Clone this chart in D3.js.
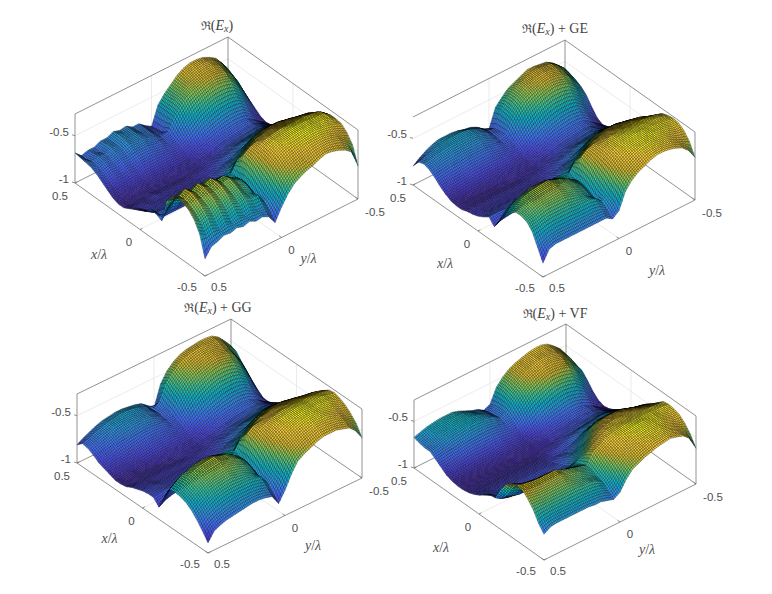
<!DOCTYPE html>
<html><head><meta charset="utf-8">
<script src="https://cdn.jsdelivr.net/npm/d3@7"></script>
<style>html,body{margin:0;background:#fff}svg{display:block}</style></head>
<body><svg id="c" width="772" height="594"></svg>
<script>
// Surface heights on a 25 x 25 grid: rows step along x, columns along y.
// Value = height above z = -1, in steps of 1/94.
const gridRe = [
[17,26,28,31,30,32,30,32,29,30,27,18,30,40,47,51,54,56,59,61,60,58,55,50,33],
[38,34,37,34,37,34,37,34,36,33,33,26,34,47,53,57,59,61,63,64,64,63,61,56,50],
[48,43,46,42,46,42,45,42,44,41,41,31,37,52,58,61,63,65,67,67,67,66,64,61,58],
[54,48,52,48,52,48,51,46,48,42,39,29,42,56,62,65,67,68,69,70,70,69,68,66,63],
[57,52,56,51,55,51,55,49,51,45,43,33,46,58,64,67,69,70,71,71,71,70,70,68,64],
[58,54,58,53,57,53,56,51,53,47,44,36,51,59,65,68,69,70,71,71,71,70,70,69,64],
[56,53,57,52,56,52,55,50,51,46,43,37,54,60,65,67,68,69,69,69,69,69,68,67,62],
[48,46,50,46,49,46,49,44,45,40,38,35,55,60,62,63,64,65,65,65,65,65,64,62,56],
[24,34,38,35,38,35,38,36,38,36,38,37,48,52,56,59,60,61,61,61,61,60,59,58,50],
[27,21,21,21,21,21,21,21,21,21,22,27,36,40,46,51,54,56,57,57,56,55,53,51,45],
[28,21,21,20,20,20,20,20,20,20,21,23,30,33,37,42,47,50,51,51,51,49,47,45,39],
[22,18,18,18,18,18,18,18,18,18,18,20,25,28,30,34,38,42,44,44,44,43,41,39,33],
[19,16,16,16,16,16,16,16,16,16,16,17,20,23,25,28,30,33,35,36,37,36,34,31,27],
[16,14,15,14,14,14,14,14,14,14,14,15,17,20,23,25,27,29,30,31,32,32,30,27,22],
[13,13,13,13,14,13,13,13,13,13,13,14,15,17,19,21,23,24,25,26,27,27,25,22,18],
[10,10,11,11,12,11,11,11,11,11,12,12,13,15,16,18,20,21,22,23,24,24,22,19,15],
[10,10,10,11,11,11,11,11,11,12,12,12,12,14,15,17,19,20,21,22,23,23,20,16,12],
[12,11,12,12,13,12,13,13,13,13,13,13,13,15,17,19,21,23,24,25,25,24,20,15,11],
[16,14,15,15,16,16,17,17,17,17,17,16,16,18,21,25,28,30,32,33,33,32,27,19,13],
[20,18,20,19,21,20,22,22,22,21,20,19,19,23,29,34,38,41,43,43,43,41,35,26,17],
[24,22,24,23,25,25,27,27,27,25,24,21,21,29,37,43,47,50,52,53,52,50,43,33,21],
[27,25,27,26,28,28,31,30,30,28,26,22,24,36,44,50,53,55,57,58,57,55,49,39,25],
[28,26,28,27,30,29,32,31,31,28,27,22,20,36,45,50,55,57,59,60,60,57,51,42,27],
[29,24,27,25,30,29,33,31,31,27,27,22,19,36,44,50,55,59,61,62,61,58,53,45,29],
[30,24,26,26,29,29,32,30,31,27,27,22,18,36,44,50,56,60,62,62,61,58,54,46,29]];
const gridGE = [
[14,25,27,27,27,27,27,27,27,27,27,23,28,44,52,57,60,63,65,65,64,62,59,53,43],
[26,30,32,33,33,33,33,33,33,33,32,28,34,49,56,60,63,66,67,67,66,65,62,58,55],
[38,39,41,42,42,42,42,41,41,41,39,33,37,52,59,63,66,68,69,69,68,67,65,63,62],
[44,45,47,49,49,49,49,47,45,42,37,30,42,56,62,66,68,69,70,70,70,69,68,66,66],
[46,48,51,52,52,53,53,50,49,45,41,33,46,58,64,67,69,70,71,71,70,70,69,68,67],
[46,49,52,53,54,55,55,52,50,47,42,36,51,59,65,67,69,70,70,70,70,69,69,68,66],
[41,47,51,53,54,55,55,52,50,47,42,37,54,60,64,66,68,68,68,68,68,68,67,66,64],
[35,42,46,48,50,50,50,48,46,43,39,36,55,60,62,63,64,65,65,65,65,64,63,61,58],
[25,33,37,39,41,41,41,41,41,41,40,39,48,52,56,59,60,61,61,61,61,60,59,56,52],
[16,19,20,21,22,22,22,22,22,23,23,27,36,40,46,51,54,56,57,57,56,55,53,50,45],
[22,22,22,21,21,21,21,21,21,21,21,23,30,33,37,42,47,50,51,51,51,49,47,44,39],
[18,19,19,19,19,19,18,18,18,18,18,20,25,28,30,34,38,42,44,44,44,43,40,37,33],
[15,16,16,16,16,16,16,16,16,16,16,17,20,23,25,28,30,33,35,36,37,36,33,30,27],
[13,14,14,14,14,14,14,14,14,14,14,15,17,20,23,25,27,29,30,31,32,31,29,26,22],
[12,13,13,13,13,13,13,13,13,13,13,14,15,17,19,21,23,24,25,26,27,26,24,21,18],
[10,11,11,11,11,11,11,11,11,11,12,12,13,15,16,18,20,21,22,23,24,24,21,18,15],
[10,10,10,10,10,10,10,11,11,12,12,12,12,14,15,17,19,20,21,22,23,22,20,16,12],
[11,11,11,12,12,12,13,13,13,13,13,13,13,15,17,19,21,23,24,25,25,24,20,15,10],
[14,15,15,16,16,17,17,17,17,17,17,16,16,18,21,25,28,30,32,33,33,32,27,19,13],
[18,19,20,20,21,22,22,22,22,21,20,19,19,23,29,34,38,41,43,43,43,41,35,27,20],
[23,24,25,26,26,27,27,27,27,25,24,21,21,29,37,43,47,50,52,53,52,50,44,35,28],
[27,28,29,30,31,31,31,31,31,29,26,22,24,36,44,50,53,55,57,58,57,55,50,41,33],
[29,30,32,33,34,34,34,34,33,31,28,23,23,37,46,51,55,57,59,60,59,57,52,44,36],
[27,29,31,33,34,35,35,35,34,31,28,23,22,38,46,51,55,57,59,60,59,58,53,47,38],
[19,24,28,31,33,33,33,32,30,29,26,21,18,36,43,49,52,55,58,58,57,56,52,46,40]];
const gridGG = [
[10,19,22,24,25,26,27,28,28,27,25,15,25,38,48,52,55,58,60,60,60,58,56,50,40],
[18,24,27,29,31,32,33,33,33,32,30,22,32,44,53,57,60,62,64,64,63,62,60,55,50],
[25,30,34,37,39,40,40,40,40,39,37,28,34,48,57,60,63,65,67,67,67,65,63,59,56],
[31,36,40,43,45,46,47,45,44,41,36,27,39,53,59,63,66,68,69,69,68,67,66,63,61],
[35,40,44,47,49,50,51,50,48,45,40,30,45,57,62,65,67,69,70,70,69,69,68,66,64],
[37,42,47,50,52,53,54,52,50,47,42,33,50,58,63,66,68,69,70,70,69,69,69,67,66],
[38,43,48,51,53,54,55,52,51,47,42,35,53,60,63,65,67,68,68,68,68,68,67,66,65],
[37,42,46,48,50,51,51,49,47,43,39,34,55,60,61,62,63,64,65,65,65,64,64,63,61],
[26,32,36,39,41,42,42,42,42,41,40,38,48,52,56,59,60,61,61,61,61,60,59,58,55],
[12,16,18,19,20,21,21,22,22,22,22,27,36,40,46,51,54,56,57,57,56,55,53,51,47],
[18,19,20,20,20,20,20,20,20,20,21,23,30,33,37,42,47,50,51,51,51,49,47,45,41],
[18,18,18,18,18,18,18,18,18,18,18,20,25,28,30,34,38,42,44,44,44,43,41,39,35],
[17,17,17,16,16,16,16,16,16,16,16,17,20,23,25,28,30,33,35,36,37,36,34,32,30],
[15,15,15,14,14,14,14,14,14,14,14,15,17,20,23,25,27,29,30,31,32,32,31,29,25],
[13,13,13,13,13,13,13,13,13,13,13,14,15,17,19,21,23,24,25,26,27,27,26,24,21],
[10,10,11,11,11,11,11,11,11,11,12,12,13,15,16,18,20,21,22,23,24,24,23,21,19],
[9,9,10,10,10,10,10,11,11,12,12,12,12,14,15,17,19,20,21,22,23,23,21,18,15],
[9,9,10,10,11,11,12,12,13,13,13,13,13,15,17,19,21,23,24,25,25,24,21,16,12],
[11,12,13,13,14,15,16,17,17,17,17,16,16,18,21,25,28,30,32,33,33,32,28,20,12],
[13,15,16,17,18,19,20,21,21,21,20,19,19,23,29,34,38,41,43,43,43,41,36,27,16],
[15,18,20,22,23,24,25,26,26,25,24,21,21,29,37,43,47,50,52,53,52,50,44,34,21],
[19,22,24,26,28,29,30,30,30,29,26,22,24,36,44,50,53,55,57,58,57,55,50,40,27],
[22,25,27,29,31,32,32,32,31,30,27,23,25,39,47,52,56,58,60,60,59,57,52,43,33],
[23,25,28,30,32,33,34,34,33,31,28,22,28,43,50,56,59,61,62,62,61,60,55,47,40],
[18,22,25,28,30,31,32,32,31,30,28,23,18,38,48,54,58,60,61,62,62,61,57,50,42]];
const gridVF = [
[26,30,31,31,31,31,31,31,30,30,28,26,30,40,47,50,53,55,57,58,59,57,55,49,36],
[33,35,36,36,36,36,36,36,36,35,34,31,35,44,50,53,56,58,60,60,60,59,56,52,46],
[43,43,43,43,43,43,43,43,42,42,40,36,40,48,53,56,58,60,61,62,62,60,58,55,53],
[50,49,48,48,48,48,48,46,44,42,40,37,44,51,55,58,60,62,63,63,63,62,60,58,58],
[55,53,52,51,51,51,51,48,47,45,42,40,48,54,57,60,62,63,64,64,63,63,61,60,60],
[56,54,53,52,52,52,52,49,47,45,43,41,52,55,59,61,62,63,63,63,63,63,62,62,61],
[54,50,48,47,46,46,45,43,42,40,39,38,48,53,57,60,61,61,61,61,61,61,61,60,60],
[49,42,38,36,35,35,35,35,35,35,35,36,41,47,53,57,59,60,60,59,59,58,57,56,55],
[40,31,28,26,26,26,26,26,26,26,27,29,35,40,46,52,55,57,57,57,56,55,53,52,50],
[28,24,22,22,22,22,22,22,22,23,24,25,30,34,38,45,50,53,54,54,53,51,49,47,46],
[27,23,22,22,21,21,21,21,21,21,22,23,26,28,32,38,44,47,48,48,47,46,44,42,41],
[23,21,20,20,20,20,20,20,20,20,20,20,23,24,27,31,36,39,41,41,41,40,38,36,35],
[19,19,18,18,18,18,18,18,18,18,18,18,19,21,23,25,29,31,33,34,34,34,33,31,30],
[16,16,16,16,16,16,16,16,16,16,16,16,17,20,22,24,26,28,29,30,31,31,29,27,26],
[14,14,14,14,14,14,14,14,14,14,14,14,15,17,19,21,22,23,24,25,26,26,25,23,21],
[13,13,13,13,13,13,13,13,13,13,13,13,14,15,16,18,20,21,22,22,23,23,22,19,17],
[13,13,13,13,13,13,13,13,13,14,14,14,14,15,16,18,19,20,21,22,22,22,20,17,14],
[14,14,14,14,14,14,15,15,15,15,15,15,15,16,18,20,22,23,24,25,25,23,20,15,13],
[16,16,17,17,18,18,18,18,19,19,18,18,17,19,22,26,29,31,33,34,33,31,27,20,15],
[20,20,21,22,23,24,24,24,24,24,23,22,22,26,32,36,39,42,44,44,43,41,35,27,20],
[24,25,26,27,28,29,30,30,30,29,27,25,26,33,39,45,48,51,53,53,52,50,44,35,27],
[28,29,30,32,33,34,35,35,34,33,31,27,29,38,44,49,53,55,57,57,56,54,49,41,33],
[28,30,32,34,35,36,36,36,35,33,30,26,29,40,46,51,55,57,59,59,58,56,51,45,34],
[29,31,34,35,36,37,37,36,34,31,29,25,28,41,47,52,55,57,59,59,59,57,52,46,31],
[31,33,35,36,37,37,37,35,32,29,27,23,26,40,47,52,55,57,59,60,60,58,53,47,27]];

const xTicks = [-0.5, 0, 0.5];
const yTicks = [-0.5, 0, 0.5];
const zTicks = [-1, -0.5];
const tickText = {"-1":"-1","-0.5":"-0.5","0":"0","0.5":"0.5"};
const zUnit = 1/94, zLim = [-1, -0.27];
const parula = ["#3e26a8","#4747eb","#3e6fff","#2796eb","#08b5d0","#31c69f","#81cc59","#dcbd29","#fccf30","#f9fb14"];

const panels = [
 {grid:gridRe, extra:"", left:[75,183], bottom:[205,276], right:[358,199], h:69, leftEdge:true,
  titleX:217, titleY:30, xl:[-41,24], yl:[27,20]},
 {grid:gridGE, extra:" + GE", left:[413,185], bottom:[543,277], right:[695,200], h:68, leftEdge:false,
  titleX:555, titleY:33, xl:[-33,32], yl:[38,31]},
 {grid:gridGG, extra:" + GG", left:[77,463], bottom:[208,553], right:[362,478], h:69, leftEdge:true,
  titleX:218, titleY:312, xl:[-33,30], yl:[28,29]},
 {grid:gridVF, extra:" + VF", left:[414,468], bottom:[544,560], right:[696,484], h:68, leftEdge:true,
  titleX:555, titleY:318, xl:[-38,33], yl:[27,27]}
];

const svg = d3.select("#c");
const S = 4; // each read facet is drawn as S x S mesh cells lying on that facet

panels.forEach(p => {
  const g = svg.append("g");
  const ax = d3.scaleLinear([-0.5,0.5],[0,1]);   // x runs bottom corner -> left corner
  const by = d3.scaleLinear([0.5,-0.5],[0,1]);   // y runs bottom corner -> right corner
  const hz = d3.scaleLinear(zLim,[0,p.h]);
  const A = [p.left[0]-p.bottom[0], p.left[1]-p.bottom[1]];
  const B = [p.right[0]-p.bottom[0], p.right[1]-p.bottom[1]];
  const proj = (x,y,z) => {
    const a = ax(x), b = by(y);
    return [p.bottom[0]+a*A[0]+b*B[0], p.bottom[1]+a*A[1]+b*B[1]-hz(z)];
  };
  const seg = (a,b,cls) => g.append("line").attr("x1",a[0]).attr("y1",a[1]).attr("x2",b[0]).attr("y2",b[1])
      .attr("stroke",cls==="grid"?"#e2e2e2":"#6e6e6e").attr("stroke-width",cls==="grid"?.7:.75);
  const top = zLim[1], bot = zLim[0];

  // grid
  zTicks.filter(z=>z>bot).forEach(z=>{ seg(proj(.5,.5,z),proj(.5,-.5,z),"grid"); seg(proj(.5,-.5,z),proj(-.5,-.5,z),"grid"); });
  seg(proj(.5,0,bot),proj(.5,0,top),"grid"); seg(proj(.5,0,bot),proj(-.5,0,bot),"grid");
  seg(proj(0,-.5,bot),proj(0,-.5,top),"grid"); seg(proj(0,-.5,bot),proj(0,.5,bot),"grid");
  // box
  seg(proj(.5,.5,bot),proj(-.5,.5,bot)); seg(proj(-.5,.5,bot),proj(-.5,-.5,bot));
  seg(proj(.5,.5,bot),proj(.5,-.5,bot)); seg(proj(.5,-.5,bot),proj(-.5,-.5,bot));
  seg(proj(.5,.5,top),proj(.5,-.5,top)); seg(proj(.5,-.5,top),proj(-.5,-.5,top));
  seg(proj(.5,-.5,bot),proj(.5,-.5,top)); seg(proj(-.5,-.5,bot),proj(-.5,-.5,top));
  if (p.leftEdge) seg(proj(.5,.5,bot),proj(.5,.5,top));

  // surface
  const n = p.grid.length-1, M = n*S;
  const xs = d3.scaleLinear([0,M],[-0.5,0.5]), ys = d3.scaleLinear([0,M],[0.5,-0.5]);
  const zAt = (i,j) => {
    const ci=Math.min(Math.floor(i/S),n-1), cj=Math.min(Math.floor(j/S),n-1);
    const fi=i/S-ci, fj=j/S-cj, G=p.grid;
    const v=(G[ci][cj]*(1-fi)+G[ci+1][cj]*fi)*(1-fj)+(G[ci][cj+1]*(1-fi)+G[ci+1][cj+1]*fi)*fj;
    return -1+v*zUnit;
  };
  const ext = d3.extent(p.grid.flat()).map(v=>-1+v*zUnit);
  const color = d3.scaleLinear().domain(parula.map((c,i)=>ext[0]+(ext[1]-ext[0])*i/9)).range(parula);
  const cells = [];
  for (let i=M-1;i>=0;i--) for (let j=M-1;j>=0;j--) cells.push([i,j]);
  const line = d3.line();
  g.append("g").selectAll("path").data(cells).join("path")
    .attr("d",([i,j])=>line([[i,j],[i+1,j],[i+1,j+1],[i,j+1]].map(([u,w])=>proj(xs(u),ys(w),zAt(u,w))))+"Z")
    .attr("fill",([i,j])=>color((zAt(i,j)+zAt(i+1,j)+zAt(i,j+1)+zAt(i+1,j+1))/4))
    .attr("stroke","#000").attr("stroke-width",.5).attr("stroke-opacity",.6);

  // ticks and labels
  const lab = (t,pos,anchor) => g.append("text").text(t).attr("x",pos[0]).attr("y",pos[1])
    .attr("text-anchor",anchor||"middle").attr("dominant-baseline","central")
    .attr("font-family","Liberation Sans, Arial, sans-serif").attr("font-size",11.5).attr("fill","#505050");
  xTicks.forEach(x=>{ const q=proj(x,.5,bot);
    seg(q,[q[0]+2.4,q[1]-1.2]);
    const off = x===0?[-11,12.5]:x>0?[-15,13]:[-18,11];
    lab(tickText[x],[q[0]+off[0],q[1]+off[1]]); });
  yTicks.forEach(y=>{ const q=proj(-.5,y,bot);
    seg(q,[q[0]-2.4,q[1]-1.7]);
    const off = y===0?[10,12]:y>0?[14,11]:[17,13];
    lab(tickText[y],[q[0]+off[0],q[1]+off[1]]); });
  zTicks.forEach(z=>{ const q=proj(.5,.5,z);
    seg(q,[q[0]-3,q[1]-1]);
    lab(tickText[z],[q[0]-6,q[1]-4],"end"); });

  // axis labels
  const mathLab = (sym,pos)=>{ const t=g.append("text").attr("x",pos[0]).attr("y",pos[1]).attr("text-anchor","middle")
      .attr("dominant-baseline","central").attr("font-family","Liberation Serif, serif").attr("font-size",14).attr("fill","#505050");
    t.append("tspan").attr("font-style","italic").text(sym);
    t.append("tspan").text("/");
    t.append("tspan").attr("font-style","italic").text("λ"); };
  const mx=proj(0,.5,bot), my=proj(-.5,0,bot);
  mathLab("x",[mx[0]+p.xl[0],mx[1]+p.xl[1]]);
  mathLab("y",[my[0]+p.yl[0],my[1]+p.yl[1]]);

  // title
  const t=g.append("text").attr("x",p.titleX).attr("y",p.titleY).attr("text-anchor","middle")
    .attr("font-family","Liberation Serif, DejaVu Serif, serif").attr("font-size",14).attr("fill","#444");
  t.append("tspan").attr("font-family","DejaVu Serif, serif").attr("font-size",12).text("ℜ");
  t.append("tspan").text("(");
  t.append("tspan").attr("font-style","italic").text("E");
  t.append("tspan").attr("font-style","italic").attr("font-size",10).attr("dy",2).text("x");
  t.append("tspan").attr("dy",-2).text(")"+p.extra);
});
</script></body></html>
